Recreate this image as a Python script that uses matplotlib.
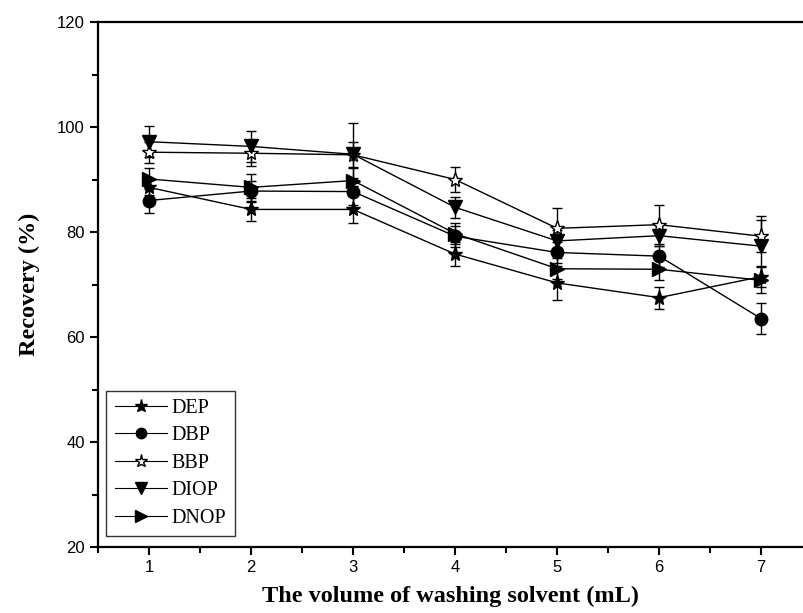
import matplotlib
matplotlib.use('Agg')
import matplotlib.pyplot as plt
from matplotlib.lines import Line2D
from matplotlib.ticker import MultipleLocator

volume = [1, 2, 3, 4, 5, 6, 7]

dep = [88.5, 84.3, 84.3, 75.8, 70.3, 67.5, 71.5]
dbp = [86.0, 87.8, 87.7, 79.2, 76.1, 75.4, 63.5]
bbp = [95.2, 95.0, 94.7, 90.0, 80.7, 81.4, 79.2]
diop = [97.2, 96.3, 94.8, 84.7, 78.3, 79.3, 77.3]
dnop = [90.1, 88.5, 89.8, 79.7, 73.0, 72.9, 70.8]

dep_err = [1.5, 2.2, 2.6, 2.3, 3.2, 2.1, 2.0]
dbp_err = [2.3, 2.0, 2.5, 2.0, 2.0, 2.0, 3.0]
bbp_err = [2.0, 2.5, 2.5, 2.4, 3.8, 3.7, 3.0]
diop_err = [3.0, 3.0, 6.0, 2.0, 2.0, 2.0, 5.7]
dnop_err = [2.0, 2.5, 2.5, 2.0, 2.0, 2.0, 2.5]

names = ['DEP', 'DBP', 'BBP', 'DIOP', 'DNOP']
series = [dep, dbp, bbp, diop, dnop]
errors = [dep_err, dbp_err, bbp_err, diop_err, dnop_err]
markers = ['*', 'o', '*', 'v', '>']
faces = ['black', 'black', 'white', 'black', 'black']
sizes = [11, 9, 11, 10, 10]

fig = plt.figure(figsize=(8.04, 6.13), dpi=100)
ax = fig.add_axes([98 / 804, 66 / 613, 1 - 98 / 804, 525 / 613])

handles = []
for name, vals, err, mk, fc, ms in zip(names, series, errors, markers, faces, sizes):
    ax.errorbar(volume, vals, yerr=err, color='black', lw=1.0, marker=mk,
                markerfacecolor=fc, markeredgecolor='black', markersize=ms,
                elinewidth=1.0, capsize=3.6, capthick=1.0)
    # legend shows only line + marker, no error bars
    handles.append(Line2D([], [], color='black', lw=0.8, marker=mk,
                          markerfacecolor=fc, markeredgecolor='black',
                          markersize=ms - 1.5, label=name))

ax.set_xlim(0.5, 7.42)
ax.set_ylim(20, 120)
ax.xaxis.set_major_locator(MultipleLocator(1))
ax.xaxis.set_minor_locator(MultipleLocator(0.5))
ax.yaxis.set_major_locator(MultipleLocator(20))
ax.yaxis.set_minor_locator(MultipleLocator(10))
ax.tick_params(which='both', direction='out', width=1.5, top=False, right=False)
ax.tick_params(which='major', length=6, labelsize=12)
ax.tick_params(which='minor', length=4)
for lab in ax.get_xticklabels() + ax.get_yticklabels():
    lab.set_family('Liberation Sans')

for side in ['left', 'bottom', 'top']:
    ax.spines[side].set_linewidth(1.6)
ax.spines['right'].set_visible(False)

ax.set_xlabel('The volume of washing solvent (mL)', family='Liberation Serif',
              fontweight='bold', fontsize=17.5, labelpad=8)
ax.set_ylabel('Recovery (%)', family='Liberation Serif', fontweight='bold',
              fontsize=17.5, labelpad=12)

leg = ax.legend(handles=handles, loc='lower left', bbox_to_anchor=(0.012, 0.021),
                borderaxespad=0, numpoints=1,
                prop={'family': 'Liberation Serif', 'size': 14.5},
                handlelength=2.6, labelspacing=0.42, handletextpad=0.25,
                fancybox=False, frameon=True, borderpad=0.4)
leg.get_frame().set_edgecolor('black')
leg.get_frame().set_linewidth(1.0)

fig.savefig('out.png', dpi=100)
